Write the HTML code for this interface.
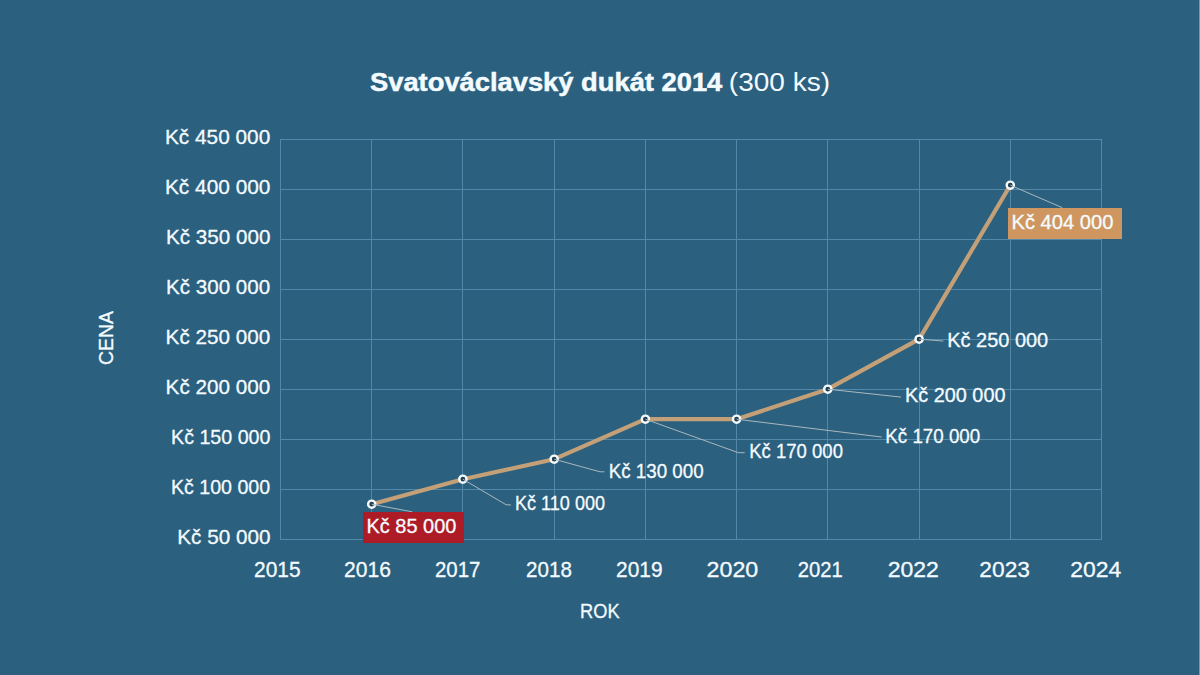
<!DOCTYPE html>
<html><head><meta charset="utf-8"><style>html,body{margin:0;padding:0;background:#2b607f;width:1200px;height:675px;overflow:hidden}svg{display:block;font-family:"Liberation Sans", sans-serif}</style></head>
<body><svg width="1200" height="675" viewBox="0 0 1200 675"><rect width="1200" height="675" fill="#2b607f"/><rect x="1199" y="0" width="1" height="675" fill="#65a0bf"/><path d="M280.5 139V540 M371.5 139V540 M462.5 139V540 M554.5 139V540 M645.5 139V540 M736.5 139V540 M827.5 139V540 M919.5 139V540 M1010.5 139V540 M1101.5 139V540 M280 139.5H1102 M280 189.5H1102 M280 239.5H1102 M280 289.5H1102 M280 339.5H1102 M280 389.5H1102 M280 439.5H1102 M280 489.5H1102 M280 539.5H1102" stroke="#5288a9" stroke-width="1" fill="none" shape-rendering="crispEdges"/><polyline points="371.7,504.2 462.9,479.2 554.2,459.2 645.4,419.2 736.6,419.2 827.8,389.2 919.1,339.2 1010.3,185.2" fill="none" stroke="#c4a078" stroke-width="4.2" stroke-linejoin="round" stroke-linecap="round"/><circle cx="371.7" cy="504.2" r="3.6" fill="#223f4d" stroke="#f4fbff" stroke-width="2.4"/><circle cx="462.9" cy="479.2" r="3.6" fill="#223f4d" stroke="#f4fbff" stroke-width="2.4"/><circle cx="554.2" cy="459.2" r="3.6" fill="#223f4d" stroke="#f4fbff" stroke-width="2.4"/><circle cx="645.4" cy="419.2" r="3.6" fill="#223f4d" stroke="#f4fbff" stroke-width="2.4"/><circle cx="736.6" cy="419.2" r="3.6" fill="#223f4d" stroke="#f4fbff" stroke-width="2.4"/><circle cx="827.8" cy="389.2" r="3.6" fill="#223f4d" stroke="#f4fbff" stroke-width="2.4"/><circle cx="919.1" cy="339.2" r="3.6" fill="#223f4d" stroke="#f4fbff" stroke-width="2.4"/><circle cx="1010.3" cy="185.2" r="3.6" fill="#223f4d" stroke="#f4fbff" stroke-width="2.4"/><path d="M371.7 504.2 L412.3 511.8" stroke="#aab8bd" stroke-width="1" fill="none"/><path d="M462.9 479.2 L506.0 504.7 L511.0 505.0" stroke="#aab8bd" stroke-width="1" fill="none"/><path d="M554.2 459.2 L600.0 471.8 L604.5 471.8" stroke="#aab8bd" stroke-width="1" fill="none"/><path d="M645.4 419.2 L738.3 452.7 L744.7 452.7" stroke="#aab8bd" stroke-width="1" fill="none"/><path d="M736.6 419.2 L881.7 437.0" stroke="#aab8bd" stroke-width="1" fill="none"/><path d="M827.8 389.2 L901.0 397.1" stroke="#aab8bd" stroke-width="1" fill="none"/><path d="M919.1 339.2 L943.3 341.0" stroke="#aab8bd" stroke-width="1" fill="none"/><path d="M1010.3 185.2 L1062.3 207.7" stroke="#aab8bd" stroke-width="1" fill="none"/><rect x="363" y="512" width="101" height="31" fill="#ad1b26"/><rect x="1008" y="208" width="114" height="31" fill="#cf9660"/><g fill="#f4fbff" font-family='"Liberation Sans", sans-serif'><text x="370.0" y="90.5" font-size="26" font-weight="bold" textLength="352.31" lengthAdjust="spacingAndGlyphs" stroke="#f4fbff" stroke-width="0.5">Svatováclavský dukát 2014</text><text x="728.84" y="90.5" font-size="26" font-weight="normal" textLength="101.23" lengthAdjust="spacingAndGlyphs" stroke="#f4fbff" stroke-width="0">(300 ks)</text><text x="165.01" y="144" font-size="21" font-weight="normal" textLength="105.25" lengthAdjust="spacingAndGlyphs" stroke="#f4fbff" stroke-width="0.3">Kč 450 000</text><text x="164.91" y="194" font-size="21" font-weight="normal" textLength="105.56" lengthAdjust="spacingAndGlyphs" stroke="#f4fbff" stroke-width="0.3">Kč 400 000</text><text x="166.02" y="244" font-size="21" font-weight="normal" textLength="104.44" lengthAdjust="spacingAndGlyphs" stroke="#f4fbff" stroke-width="0.3">Kč 350 000</text><text x="166.02" y="294" font-size="21" font-weight="normal" textLength="104.24" lengthAdjust="spacingAndGlyphs" stroke="#f4fbff" stroke-width="0.3">Kč 300 000</text><text x="165.62" y="344" font-size="21" font-weight="normal" textLength="104.65" lengthAdjust="spacingAndGlyphs" stroke="#f4fbff" stroke-width="0.3">Kč 250 000</text><text x="165.62" y="394" font-size="21" font-weight="normal" textLength="104.65" lengthAdjust="spacingAndGlyphs" stroke="#f4fbff" stroke-width="0.3">Kč 200 000</text><text x="171.06" y="444" font-size="21" font-weight="normal" textLength="99.38" lengthAdjust="spacingAndGlyphs" stroke="#f4fbff" stroke-width="0.3">Kč 150 000</text><text x="170.97" y="494" font-size="21" font-weight="normal" textLength="99.18" lengthAdjust="spacingAndGlyphs" stroke="#f4fbff" stroke-width="0.3">Kč 100 000</text><text x="177.32" y="544" font-size="21" font-weight="normal" textLength="93.15" lengthAdjust="spacingAndGlyphs" stroke="#f4fbff" stroke-width="0.3">Kč 50 000</text><text x="254.05" y="577" font-size="22" font-weight="normal" textLength="46.56" lengthAdjust="spacingAndGlyphs" stroke="#f4fbff" stroke-width="0.3">2015</text><text x="344.04" y="577" font-size="22" font-weight="normal" textLength="46.87" lengthAdjust="spacingAndGlyphs" stroke="#f4fbff" stroke-width="0.3">2016</text><text x="434.97" y="577" font-size="22" font-weight="normal" textLength="45.41" lengthAdjust="spacingAndGlyphs" stroke="#f4fbff" stroke-width="0.3">2017</text><text x="526.06" y="577" font-size="22" font-weight="normal" textLength="45.83" lengthAdjust="spacingAndGlyphs" stroke="#f4fbff" stroke-width="0.3">2018</text><text x="616.05" y="577" font-size="22" font-weight="normal" textLength="46.45" lengthAdjust="spacingAndGlyphs" stroke="#f4fbff" stroke-width="0.3">2019</text><text x="706.64" y="577" font-size="22" font-weight="normal" textLength="51.66" lengthAdjust="spacingAndGlyphs" stroke="#f4fbff" stroke-width="0.3">2020</text><text x="797.78" y="577" font-size="22" font-weight="normal" textLength="45.1" lengthAdjust="spacingAndGlyphs" stroke="#f4fbff" stroke-width="0.3">2021</text><text x="887.7" y="577" font-size="22" font-weight="normal" textLength="51.19" lengthAdjust="spacingAndGlyphs" stroke="#f4fbff" stroke-width="0.3">2022</text><text x="979.37" y="577" font-size="22" font-weight="normal" textLength="50.62" lengthAdjust="spacingAndGlyphs" stroke="#f4fbff" stroke-width="0.3">2023</text><text x="1070.21" y="577" font-size="22" font-weight="normal" textLength="50.99" lengthAdjust="spacingAndGlyphs" stroke="#f4fbff" stroke-width="0.3">2024</text><text x="580.09" y="618" font-size="20" font-weight="normal" textLength="39.53" lengthAdjust="spacingAndGlyphs" stroke="#f4fbff" stroke-width="0.3">ROK</text><text transform="translate(112.6 0) rotate(-90)" x="-364.97" y="0" font-size="20" textLength="53.86" lengthAdjust="spacingAndGlyphs" stroke="#f4fbff" stroke-width="0.3">CENA</text><text x="366.5" y="532.7" font-size="20" font-weight="normal" textLength="89.88" lengthAdjust="spacingAndGlyphs" stroke="#f4fbff" stroke-width="0.3">Kč 85 000</text><text x="515.0" y="510.3" font-size="20" font-weight="normal" textLength="90.05" lengthAdjust="spacingAndGlyphs" stroke="#f4fbff" stroke-width="0.3">Kč 110 000</text><text x="608.76" y="477.5" font-size="20" font-weight="normal" textLength="94.83" lengthAdjust="spacingAndGlyphs" stroke="#f4fbff" stroke-width="0.3">Kč 130 000</text><text x="749.27" y="458.2" font-size="20" font-weight="normal" textLength="93.71" lengthAdjust="spacingAndGlyphs" stroke="#f4fbff" stroke-width="0.3">Kč 170 000</text><text x="885.36" y="442.5" font-size="20" font-weight="normal" textLength="94.83" lengthAdjust="spacingAndGlyphs" stroke="#f4fbff" stroke-width="0.3">Kč 170 000</text><text x="905.01" y="402.4" font-size="20" font-weight="normal" textLength="100.49" lengthAdjust="spacingAndGlyphs" stroke="#f4fbff" stroke-width="0.3">Kč 200 000</text><text x="947.3" y="347.3" font-size="20" font-weight="normal" textLength="100.9" lengthAdjust="spacingAndGlyphs" stroke="#f4fbff" stroke-width="0.3">Kč 250 000</text><text x="1011.49" y="229.2" font-size="20" font-weight="normal" textLength="101.91" lengthAdjust="spacingAndGlyphs" stroke="#f4fbff" stroke-width="0.3">Kč 404 000</text></g></svg></body></html>
